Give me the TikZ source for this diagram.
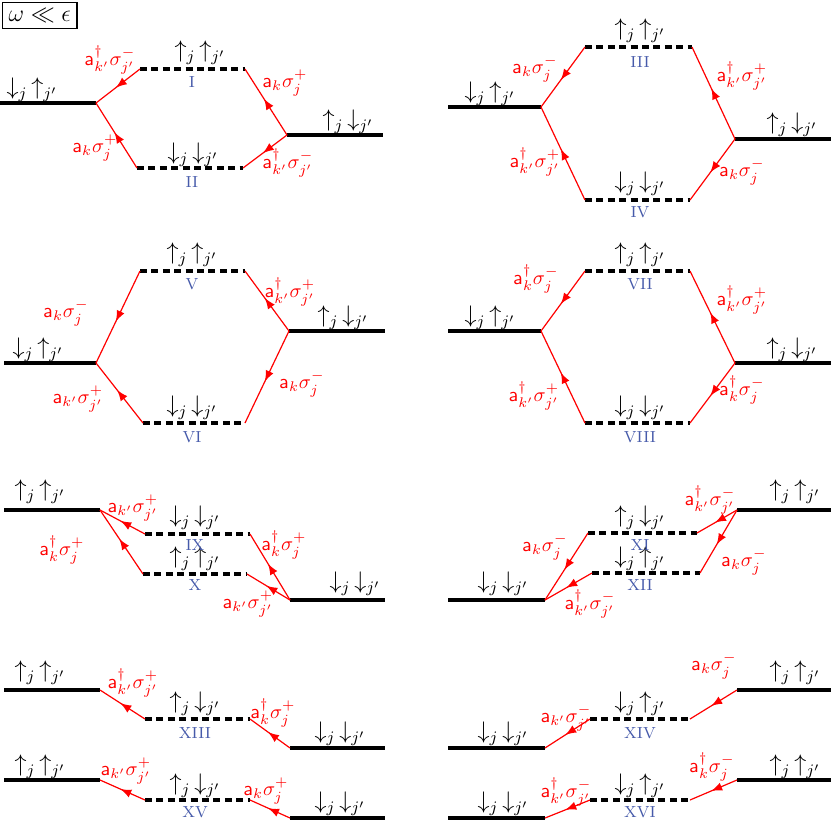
\documentclass[tikz,border=0pt]{standalone}
\usetikzlibrary{decorations.markings}
\definecolor{numblue}{RGB}{70,90,170}
\tikzset{
  lvl/.style={line width=0.6mm},
  vlvl/.style={line width=0.65mm,dash pattern=on 3.5pt off 2.2pt},
  flow/.style={red,semithick,postaction={decorate},
    decoration={markings,mark=at position .55 with {\arrow[scale=1.2]{latex}}}},
  op/.style={red,inner sep=1pt},
  spin/.style={font=\large,inner sep=1pt},
  num/.style={numblue,font=\footnotesize,inner sep=1pt},
}
\newcommand{\spins}[2]{$#1_j\,#2_{j'}$}
\begin{document}
\begin{tikzpicture}[x=0.5pt,y=-0.5pt,>=latex]
\useasboundingbox (0,0) rectangle (831,821);
\node[draw,semithick,anchor=north west,inner sep=3pt,font=\large] (box) at (2,2) {$\omega\ll\epsilon$};
% I / II
\coordinate (a1) at (0,103); \coordinate (a2) at (96,103);
\coordinate (a3) at (140,69); \coordinate (a4) at (245,69);
\coordinate (a5) at (137,168); \coordinate (a6) at (243,168);
\coordinate (a7) at (287,135); \coordinate (a8) at (383,135);
\draw[lvl] (a1) -- (a2); \draw[lvl] (a7) -- (a8);
\draw[vlvl] (a3) -- (a4); \draw[vlvl] (a5) -- (a6);
\draw[flow] (a3) -- (a2); \draw[flow] (a5) -- (a2);
\draw[flow] (a7) -- (a4); \draw[flow] (a7) -- (a6);
\node[spin] (sa1) at (32,90) {\spins\downarrow\uparrow};
\node[spin] (sa2) at (348,122) {\spins\uparrow\downarrow};
\node[spin] (sa3) at (200,53) {\spins\uparrow\uparrow};
\node[spin] (sa4) at (193,155) {\spins\downarrow\downarrow};
\node[num] (na1) at (192,82) {I};
\node[num] (na2) at (192,182) {II};
\node[op] (oa1) at (110,60) {$\mathsf{a}^\dagger_{k'}\sigma^-_{j'}$};
\node[op] (oa2) at (285,83) {$\mathsf{a}_k\sigma^+_j$};
\node[op] (oa3) at (95,148) {$\mathsf{a}_k\sigma^+_j$};
\node[op] (oa4) at (288,163) {$\mathsf{a}^\dagger_{k'}\sigma^-_{j'}$};
% III / IV
\coordinate (b1) at (448,107); \coordinate (b2) at (541,107);
\coordinate (b3) at (585,47); \coordinate (b4) at (692,47);
\coordinate (b5) at (585,200); \coordinate (b6) at (690,200);
\coordinate (b7) at (735,139); \coordinate (b8) at (831,139);
\draw[lvl] (b1) -- (b2); \draw[lvl] (b7) -- (b8);
\draw[vlvl] (b3) -- (b4); \draw[vlvl] (b5) -- (b6);
\draw[flow] (b3) -- (b2); \draw[flow] (b5) -- (b2);
\draw[flow] (b7) -- (b4); \draw[flow] (b7) -- (b6);
\node[spin] (sb1) at (490,94) {\spins\downarrow\uparrow};
\node[spin] (sb2) at (792,125) {\spins\uparrow\downarrow};
\node[spin] (sb3) at (640,31) {\spins\uparrow\uparrow};
\node[spin] (sb4) at (640,184) {\spins\downarrow\downarrow};
\node[num] (nb1) at (640,62) {III};
\node[num] (nb2) at (640,212) {IV};
\node[op] (ob1) at (535,69) {$\mathsf{a}_k\sigma^-_j$};
\node[op] (ob2) at (742,76) {$\mathsf{a}^\dagger_{k'}\sigma^+_{j'}$};
\node[op] (ob3) at (535,162) {$\mathsf{a}^\dagger_{k'}\sigma^+_{j'}$};
\node[op] (ob4) at (742,172) {$\mathsf{a}_k\sigma^-_j$};
% V / VI
\coordinate (c1) at (4,363); \coordinate (c2) at (96,363);
\coordinate (c3) at (140,271); \coordinate (c4) at (245,271);
\coordinate (c5) at (143,423); \coordinate (c6) at (245,423);
\coordinate (c7) at (289,331); \coordinate (c8) at (385,331);
\draw[lvl] (c1) -- (c2); \draw[lvl] (c7) -- (c8);
\draw[vlvl] (c3) -- (c4); \draw[vlvl] (c5) -- (c6);
\draw[flow] (c3) -- (c2); \draw[flow] (c5) -- (c2);
\draw[flow] (c7) -- (c4); \draw[flow] (c7) -- (c6);
\node[spin] (sc1) at (38,350) {\spins\downarrow\uparrow};
\node[spin] (sc2) at (343,318) {\spins\uparrow\downarrow};
\node[spin] (sc3) at (192,255) {\spins\uparrow\uparrow};
\node[spin] (sc4) at (192,408) {\spins\downarrow\downarrow};
\node[num] (nc1) at (192,284) {V};
\node[num] (nc2) at (192,437) {VI};
\node[op] (oc1) at (66,313) {$\mathsf{a}_k\sigma^-_j$};
\node[op] (oc2) at (290,292) {$\mathsf{a}^\dagger_{k'}\sigma^+_{j'}$};
\node[op] (oc3) at (78,399) {$\mathsf{a}_{k'}\sigma^+_{j'}$};
\node[op] (oc4) at (302,384) {$\mathsf{a}_k\sigma^-_j$};
% VII / VIII
\coordinate (d1) at (448,331); \coordinate (d2) at (541,331);
\coordinate (d3) at (585,271); \coordinate (d4) at (690,271);
\coordinate (d5) at (585,423); \coordinate (d6) at (690,423);
\coordinate (d7) at (735,363); \coordinate (d8) at (831,363);
\draw[lvl] (d1) -- (d2); \draw[lvl] (d7) -- (d8);
\draw[vlvl] (d3) -- (d4); \draw[vlvl] (d5) -- (d6);
\draw[flow] (d3) -- (d2); \draw[flow] (d5) -- (d2);
\draw[flow] (d7) -- (d4); \draw[flow] (d7) -- (d6);
\node[spin] (sd1) at (490,318) {\spins\downarrow\uparrow};
\node[spin] (sd2) at (792,350) {\spins\uparrow\downarrow};
\node[spin] (sd3) at (640,255) {\spins\uparrow\uparrow};
\node[spin] (sd4) at (640,408) {\spins\downarrow\downarrow};
\node[num] (nd1) at (640,284) {VII};
\node[num] (nd2) at (640,437) {VIII};
\node[op] (od1) at (536,279) {$\mathsf{a}^\dagger_k\sigma^-_j$};
\node[op] (od2) at (742,300) {$\mathsf{a}^\dagger_{k'}\sigma^+_{j'}$};
\node[op] (od3) at (534,396) {$\mathsf{a}^\dagger_{k'}\sigma^+_{j'}$};
\node[op] (od4) at (742,390) {$\mathsf{a}^\dagger_k\sigma^-_j$};
% IX / X
\coordinate (e1) at (4,510); \coordinate (e2) at (100,510);
\coordinate (e3) at (145,534); \coordinate (e4) at (250,534);
\coordinate (e5) at (143,574); \coordinate (e6) at (247,574);
\coordinate (e7) at (290,600); \coordinate (e8) at (385,600);
\draw[lvl] (e1) -- (e2); \draw[lvl] (e7) -- (e8);
\draw[vlvl] (e3) -- (e4); \draw[vlvl] (e5) -- (e6);
\draw[flow] (e3) -- (e2); \draw[flow] (e5) -- (e2);
\draw[flow] (e7) -- (e4); \draw[flow] (e7) -- (e6);
\node[spin] (se1) at (40,492) {\spins\uparrow\uparrow};
\node[spin] (se2) at (355,584) {\spins\downarrow\downarrow};
\node[spin] (se3) at (195,518) {\spins\downarrow\downarrow};
\node[spin] (se4) at (195,559) {\spins\uparrow\uparrow};
\node[num] (ne1) at (195,545) {IX};
\node[num] (ne2) at (195,585) {X};
\node[op] (oe1) at (133,508) {$\mathsf{a}_{k'}\sigma^+_{j'}$};
\node[op] (oe2) at (284,545) {$\mathsf{a}^\dagger_k\sigma^+_j$};
\node[op] (oe3) at (62,550) {$\mathsf{a}^\dagger_k\sigma^+_j$};
\node[op] (oe4) at (248,604) {$\mathsf{a}_{k'}\sigma^+_{j'}$};
% XI / XII
\coordinate (f1) at (448,600); \coordinate (f2) at (545,600);
\coordinate (f3) at (588,533); \coordinate (f4) at (697,533);
\coordinate (f5) at (592,573); \coordinate (f6) at (700,573);
\coordinate (f7) at (737,510); \coordinate (f8) at (831,510);
\draw[lvl] (f1) -- (f2); \draw[lvl] (f7) -- (f8);
\draw[vlvl] (f3) -- (f4); \draw[vlvl] (f5) -- (f6);
\draw[flow] (f3) -- (f2); \draw[flow] (f5) -- (f2);
\draw[flow] (f7) -- (f4); \draw[flow] (f7) -- (f6);
\node[spin] (sf1) at (503,584) {\spins\downarrow\downarrow};
\node[spin] (sf2) at (795,492) {\spins\uparrow\uparrow};
\node[spin] (sf3) at (640,518) {\spins\uparrow\downarrow};
\node[spin] (sf4) at (640,559) {\spins\downarrow\uparrow};
\node[num] (nf1) at (640,545) {XI};
\node[num] (nf2) at (640,585) {XII};
\node[op] (of1) at (545,547) {$\mathsf{a}_k\sigma^-_j$};
\node[op] (of2) at (710,500) {$\mathsf{a}^\dagger_{k'}\sigma^-_{j'}$};
\node[op] (of3) at (590,604) {$\mathsf{a}^\dagger_{k'}\sigma^-_{j'}$};
\node[op] (of4) at (744,562) {$\mathsf{a}_k\sigma^-_j$};
% XIII
\coordinate (g1) at (4,690); \coordinate (g2) at (100,690);
\coordinate (g3) at (145,719); \coordinate (g4) at (250,719);
\coordinate (g5) at (290,748); \coordinate (g6) at (385,748);
\draw[lvl] (g1) -- (g2); \draw[lvl] (g5) -- (g6); \draw[vlvl] (g3) -- (g4);
\draw[flow] (g3) -- (g2); \draw[flow] (g5) -- (g4);
\node[spin] (sg1) at (40,673) {\spins\uparrow\uparrow};
\node[spin] (sg2) at (340,734) {\spins\downarrow\downarrow};
\node[spin] (sg3) at (195,704) {\spins\uparrow\downarrow};
\node[num] (ng1) at (195,733) {XIII};
\node[op] (og1) at (133,683) {$\mathsf{a}^\dagger_{k'}\sigma^+_{j'}$};
\node[op] (og2) at (273,713) {$\mathsf{a}^\dagger_k\sigma^+_j$};
% XIV
\coordinate (h1) at (448,748); \coordinate (h2) at (545,748);
\coordinate (h3) at (590,719); \coordinate (h4) at (690,719);
\coordinate (h5) at (737,690); \coordinate (h6) at (831,690);
\draw[lvl] (h1) -- (h2); \draw[lvl] (h5) -- (h6); \draw[vlvl] (h3) -- (h4);
\draw[flow] (h3) -- (h2); \draw[flow] (h5) -- (h4);
\node[spin] (sh1) at (503,734) {\spins\downarrow\downarrow};
\node[spin] (sh2) at (795,673) {\spins\uparrow\uparrow};
\node[spin] (sh3) at (640,704) {\spins\downarrow\uparrow};
\node[num] (nh1) at (640,733) {XIV};
\node[op] (oh1) at (566,718) {$\mathsf{a}_{k'}\sigma^-_{j'}$};
\node[op] (oh2) at (714,666) {$\mathsf{a}_k\sigma^-_j$};
% XV
\coordinate (i1) at (4,780); \coordinate (i2) at (100,780);
\coordinate (i3) at (145,800); \coordinate (i4) at (250,800);
\coordinate (i5) at (290,818); \coordinate (i6) at (385,818);
\draw[lvl] (i1) -- (i2); \draw[lvl] (i5) -- (i6); \draw[vlvl] (i3) -- (i4);
\draw[flow] (i3) -- (i2); \draw[flow] (i5) -- (i4);
\node[spin] (si1) at (40,767) {\spins\uparrow\uparrow};
\node[spin] (si2) at (340,804) {\spins\downarrow\downarrow};
\node[spin] (si3) at (195,786) {\spins\uparrow\downarrow};
\node[num] (ni1) at (195,812) {XV};
\node[op] (oi1) at (126,771) {$\mathsf{a}_{k'}\sigma^+_{j'}$};
\node[op] (oi2) at (266,791) {$\mathsf{a}_k\sigma^+_j$};
% XVI
\coordinate (j1) at (448,818); \coordinate (j2) at (545,818);
\coordinate (j3) at (590,800); \coordinate (j4) at (690,800);
\coordinate (j5) at (737,780); \coordinate (j6) at (831,780);
\draw[lvl] (j1) -- (j2); \draw[lvl] (j5) -- (j6); \draw[vlvl] (j3) -- (j4);
\draw[flow] (j3) -- (j2); \draw[flow] (j5) -- (j4);
\node[spin] (sj1) at (503,804) {\spins\downarrow\downarrow};
\node[spin] (sj2) at (795,767) {\spins\uparrow\uparrow};
\node[spin] (sj3) at (640,786) {\spins\downarrow\uparrow};
\node[num] (nj1) at (640,812) {XVI};
\node[op] (oj1) at (566,792) {$\mathsf{a}^\dagger_{k'}\sigma^-_{j'}$};
\node[op] (oj2) at (712,767) {$\mathsf{a}^\dagger_k\sigma^-_j$};
\end{tikzpicture}
\end{document}
